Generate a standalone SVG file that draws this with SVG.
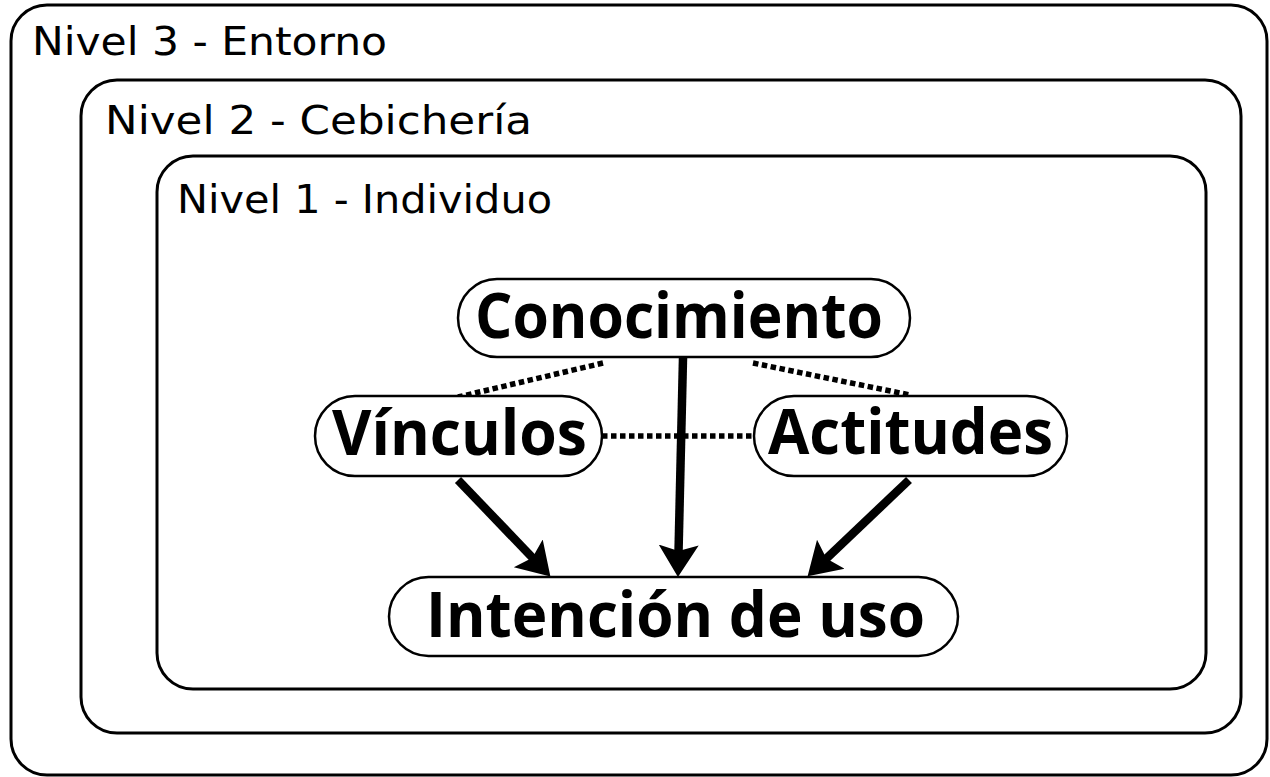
<svg xmlns="http://www.w3.org/2000/svg" width="1270" height="777" viewBox="0 0 1270 777">
<defs>
<style>
.lvl{fill:#fff;stroke:#000;stroke-width:3}
.lbl{font-family:"DejaVu Sans","Noto Sans",sans-serif;font-size:39px;fill:#000}
.pill{fill:#fff;stroke:#000;stroke-width:2.5}
.nt{font-family:"Open Sans","Noto Sans",sans-serif;font-weight:bold;font-size:62px;fill:#000}
.arr{stroke:#000;stroke-width:8.5;fill:none;marker-end:url(#ah)}
.dot{stroke:#000;stroke-width:5.5;fill:none;stroke-dasharray:5.5 3.5}
</style>
<marker id="ah" viewBox="0 0 32 42" markerWidth="32" markerHeight="42" refX="8" refY="21" orient="auto" markerUnits="userSpaceOnUse">
<path d="M0,1 L32,21 L0,41 L6,21 z" fill="#000"/>
</marker>
</defs>
<rect width="1270" height="777" fill="#fff"/>
<g id="nivel3">
<rect class="lvl" x="11" y="5" width="1256" height="770" rx="36"/>
<text class="lbl" x="32" y="55" textLength="355" lengthAdjust="spacingAndGlyphs">Nivel 3 - Entorno</text>
</g>
<g id="nivel2">
<rect class="lvl" x="81" y="80" width="1160" height="653" rx="36"/>
<text class="lbl" x="105" y="134" textLength="427" lengthAdjust="spacingAndGlyphs">Nivel 2 - Cebichería</text>
</g>
<g id="nivel1">
<rect class="lvl" x="157" y="156" width="1049" height="533" rx="36"/>
<text class="lbl" x="177" y="213" textLength="375" lengthAdjust="spacingAndGlyphs">Nivel 1 - Individuo</text>
</g>
<g id="connectors">
<line class="dot" x1="603" y1="363" x2="458" y2="397"/>
<line class="dot" x1="753" y1="363" x2="910" y2="395"/>
<line class="dot" x1="602" y1="436" x2="754" y2="436"/>
<line class="arr" x1="683" y1="358" x2="678.5" y2="553"/>
<line class="arr" x1="458" y1="480" x2="533.8" y2="559.1"/>
<line class="arr" x1="909" y1="480" x2="825" y2="559.8"/>
</g>
<g id="conocimiento">
<rect class="pill" x="458" y="279" width="452" height="78" rx="39"/>
<text class="nt" x="475" y="338" textLength="408" lengthAdjust="spacingAndGlyphs">Conocimiento</text>
</g>
<g id="vinculos">
<rect class="pill" x="315" y="396" width="287" height="80" rx="40"/>
<text class="nt" x="332" y="455" textLength="255" lengthAdjust="spacingAndGlyphs">Vínculos</text>
</g>
<g id="actitudes">
<rect class="pill" x="754" y="396" width="313" height="80" rx="40"/>
<text class="nt" x="768" y="454" textLength="285" lengthAdjust="spacingAndGlyphs">Actitudes</text>
</g>
<g id="intencion">
<rect class="pill" x="389" y="577" width="569" height="79" rx="39.5"/>
<text class="nt" x="426" y="637" textLength="499" lengthAdjust="spacingAndGlyphs">Intención de uso</text>
</g>
</svg>
